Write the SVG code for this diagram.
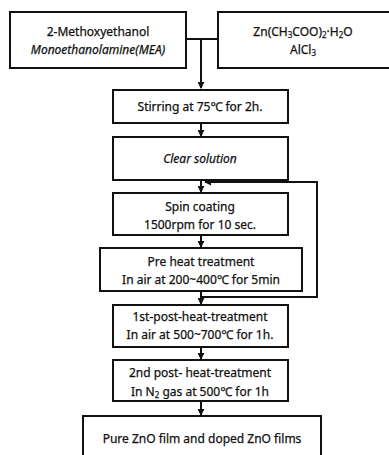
<svg xmlns="http://www.w3.org/2000/svg" width="389" height="455" viewBox="0 0 389 455">
<defs>
<marker id="ah" viewBox="0 0 8 8" refX="7" refY="4" markerWidth="7" markerHeight="7" orient="auto" markerUnits="userSpaceOnUse">
<path d="M0,0 L8,4 L0,8 z" fill="#111"/>
</marker>
<style>
.box{fill:#fff;stroke:#111;stroke-width:2}
.t{font-family:"Noto Sans","Open Sans",sans-serif;font-size:12px;fill:#111;text-anchor:middle;stroke:#111;stroke-width:0.25}
.i{font-style:italic}
.c{fill:none;stroke:#111;stroke-width:2}
.sub{font-size:8px}
</style>
</defs>
<rect width="389" height="455" fill="#fff"/>
<g id="n1">
<rect class="box" x="10" y="12" width="176" height="56"/>
<text class="t" x="98" y="36">2-Methoxyethanol</text>
<text class="t i" x="98" y="54">Monoethanolamine(MEA)</text>
</g>
<g id="n2">
<rect class="box" x="218" y="12" width="172" height="56"/>
<text class="t" x="303" y="36">Zn(CH<tspan class="sub" dy="2">3</tspan><tspan dy="-2">COO)</tspan><tspan class="sub" dy="2">2</tspan><tspan dy="-2">·H</tspan><tspan class="sub" dy="2">2</tspan><tspan dy="-2">O</tspan></text>
<text class="t" x="303" y="54">AlCl<tspan class="sub" dy="2">3</tspan></text>
</g>
<g id="n3">
<rect class="box" x="113" y="90" width="175" height="33"/>
<text class="t" x="200" y="111">Stirring at 75℃ for 2h.</text>
</g>
<g id="n4">
<rect class="box" x="113" y="137" width="175" height="43"/>
<text class="t i" x="200" y="163">Clear solution</text>
</g>
<g id="n5">
<rect class="box" x="113" y="193" width="175" height="42"/>
<text class="t" x="200" y="211">Spin coating</text>
<text class="t" x="200" y="229">1500rpm for 10 sec.</text>
</g>
<g id="n6">
<rect class="box" x="100" y="248" width="202" height="43"/>
<text class="t" x="201" y="266">Pre heat treatment</text>
<text class="t" x="201" y="284">In air at 200~400℃ for 5min</text>
</g>
<g id="n7">
<rect class="box" x="113" y="305" width="175" height="42"/>
<text class="t" x="200" y="321">1st-post-heat-treatment</text>
<text class="t" x="200" y="339">In air at 500~700℃ for 1h.</text>
</g>
<g id="n8">
<rect class="box" x="113" y="360" width="175" height="41"/>
<text class="t" x="200" y="377">2nd post- heat-treatment</text>
<text class="t" x="200" y="396">In N<tspan class="sub" dy="2">2</tspan><tspan dy="-2"> gas at 500℃ for 1h</tspan></text>
</g>
<g id="n9">
<rect class="box" x="83" y="416" width="238" height="45"/>
<text class="t" x="202" y="443">Pure ZnO film and doped ZnO films</text>
</g>
<g id="connectors">
<path class="c" d="M187,39 H217"/>
<path class="c" d="M201,39 V88" stroke-width="3" marker-end="url(#ah)"/>
<path class="c" d="M201,124 V136" marker-end="url(#ah)"/>
<path class="c" d="M201,181 V192" marker-end="url(#ah)"/>
<path class="c" d="M201,236 V247" marker-end="url(#ah)"/>
<path class="c" d="M201,292 V304" marker-end="url(#ah)"/>
<path class="c" d="M201,348 V359" marker-end="url(#ah)"/>
<path class="c" d="M201,402 V415" marker-end="url(#ah)"/>
<path class="c" d="M202,297 H317 V182 H205" marker-end="url(#ah)"/>
</g>
</svg>
